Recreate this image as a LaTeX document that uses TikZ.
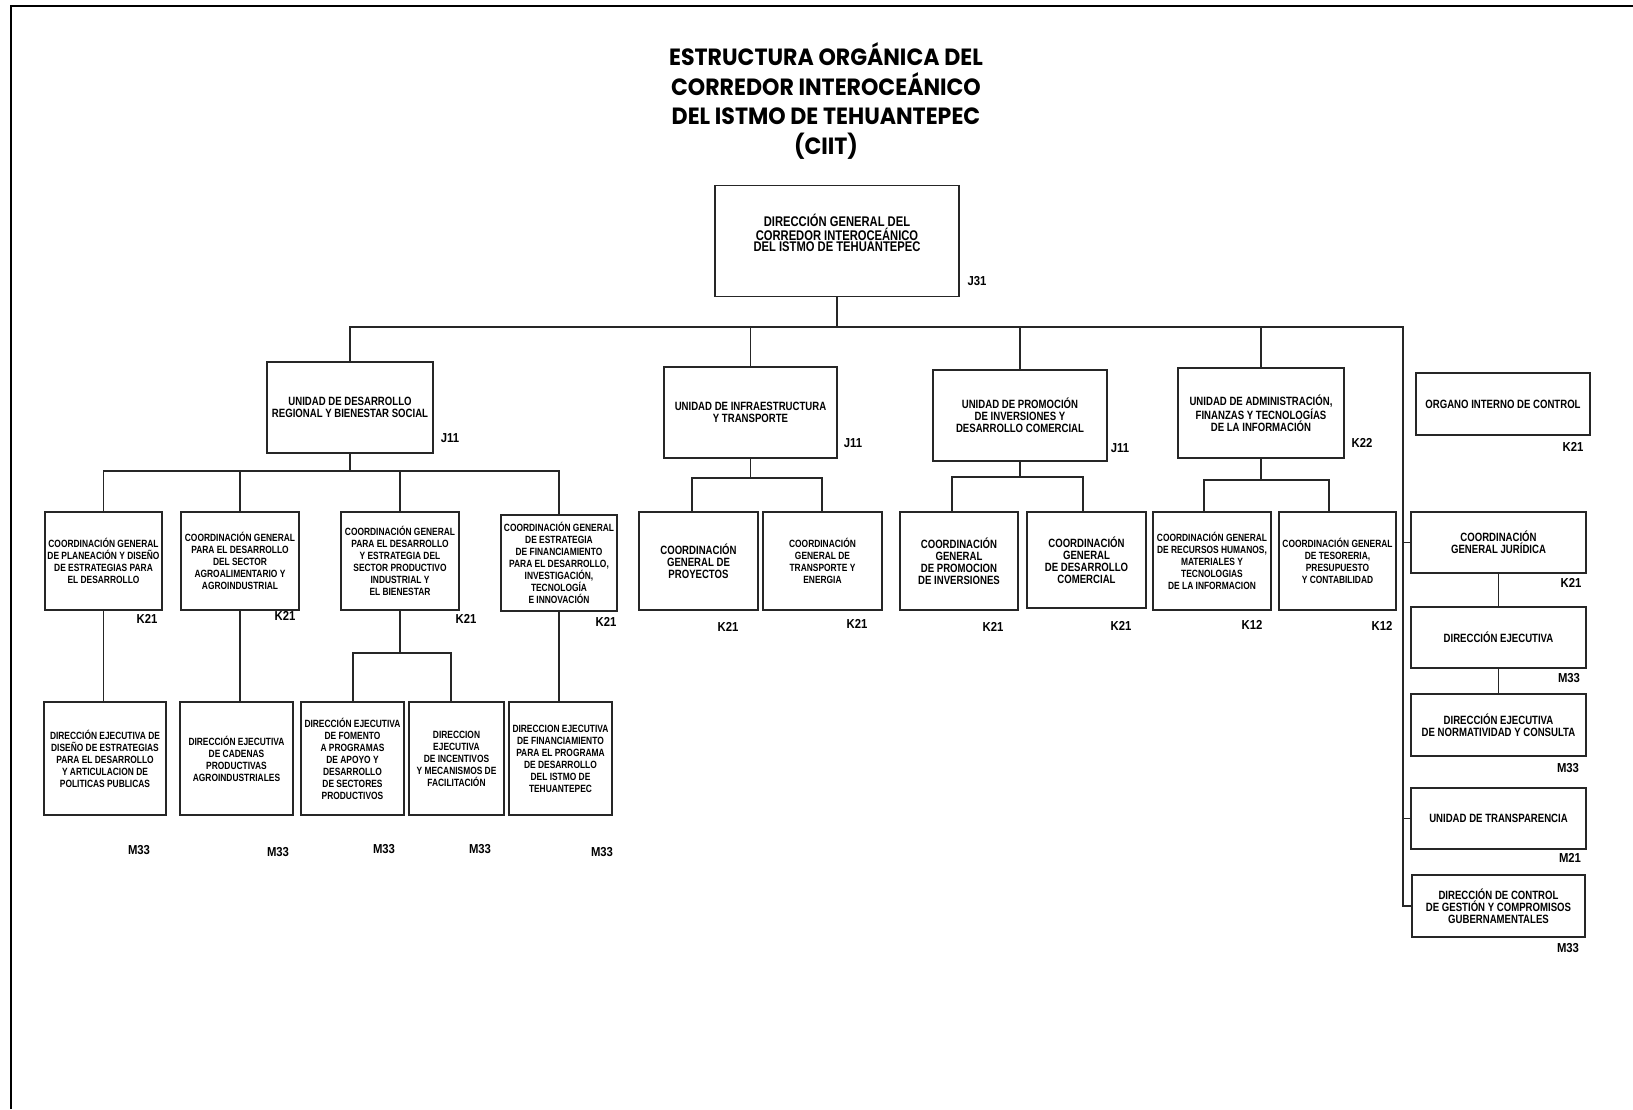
\documentclass[tikz,border=0pt]{standalone}
\usepackage{fontspec}
\setmainfont{Liberation Sans}
\newfontfamily\narrowfont{Liberation Sans}[FakeStretch=0.8]
\newfontfamily\codefont{Liberation Sans}[FakeStretch=0.87]
\newfontfamily\titlefont{Poppins}[FakeStretch=0.94]
\tikzset{
    box/.style={draw=black!85, line width=1.3pt, inner sep=1pt, align=center},
    conn/.style={draw=black!85, line width=1.1pt},
    txtbig/.style={font=\narrowfont\bfseries\fontsize{14}{11}\selectfont},
    txtmid/.style={font=\narrowfont\bfseries\fontsize{12}{12}\selectfont},
    txtsmall/.style={font=\narrowfont\bfseries\fontsize{10.5}{12}\selectfont},
    grade/.style={font=\codefont\bfseries\fontsize{13}{13}\selectfont, inner sep=0pt},
}

\begin{document}
\begin{tikzpicture}[x=1pt,y=-1pt]
        \useasboundingbox (0,0) rectangle (1633,1109);
        \draw[line width=2.4pt](11,1109)--(11,6)--(1633,6);
        \node[font=\titlefont\bfseries\fontsize{23.5}{29.5}\selectfont, align=center] (title) at (826,101) {ESTRUCTURA ORGÁNICA DEL\\CORREDOR INTEROCEÁNICO\\DEL ISTMO DE TEHUANTEPEC\\(CIIT)};
        % direccion general
        \node[box, minimum width=244, minimum height=111] (dg) at (837,241) {};
        \node[txtbig, align=center] (dgtext) at (837,233) {DIRECCIÓN GENERAL DEL\\CORREDOR INTEROCEÁNICO\\DEL ISTMO DE TEHUANTEPEC};
        \node[grade] (dgcode) at (977,281) {J31};
        % unidades
        \node[box, txtmid, minimum width=166, minimum height=91] (udr) at (350,407.5) {UNIDAD DE DESARROLLO\\REGIONAL Y BIENESTAR SOCIAL};
        \node[grade] (udrcode) at (450,438) {J11};
        \node[box, txtmid, minimum width=173, minimum height=91] (uit) at (750.5,412.5) {UNIDAD DE INFRAESTRUCTURA\\Y TRANSPORTE};
        \node[grade] (uitcode) at (853,443) {J11};
        \node[box, txtmid, minimum width=174, minimum height=91] (upi) at (1020,415.5) {UNIDAD DE PROMOCIÓN\\DE INVERSIONES Y\\DESARROLLO COMERCIAL};
        \node[grade] (upicode) at (1120,448) {J11};
        \node[box, txtmid, minimum width=166, minimum height=90] (uaf) at (1261,413) {UNIDAD DE ADMINISTRACIÓN,\\FINANZAS Y TECNOLOGÍAS\\DE LA INFORMACIÓN};
        \node[grade] (uafcode) at (1362,443) {K22};
        \node[box, txtmid, minimum width=174, minimum height=62] (oic) at (1503,404) {ORGANO INTERNO DE CONTROL};
        \node[grade] (oiccode) at (1573,447) {K21};
        % coordinaciones
        \node[box, txtsmall, minimum width=117, minimum height=98] (c1) at (103.5,561) {COORDINACIÓN GENERAL\\DE PLANEACIÓN Y DISEÑO\\DE ESTRATEGIAS PARA\\EL DESARROLLO};
        \node[grade] (c1code) at (147,619) {K21};
        \node[box, txtsmall, minimum width=118, minimum height=98] (c2) at (240,561) {COORDINACIÓN GENERAL\\PARA EL DESARROLLO\\DEL SECTOR\\AGROALIMENTARIO Y\\AGROINDUSTRIAL};
        \node[grade] (c2code) at (285,616) {K21};
        \node[box, txtsmall, minimum width=118, minimum height=98] (c3) at (400,561) {COORDINACIÓN GENERAL\\PARA EL DESARROLLO\\Y ESTRATEGIA DEL\\SECTOR PRODUCTIVO\\INDUSTRIAL Y\\EL BIENESTAR};
        \node[grade] (c3code) at (466,619) {K21};
        \node[box, txtsmall, minimum width=116, minimum height=96] (c4) at (559,563) {COORDINACIÓN GENERAL\\DE ESTRATEGIA\\DE FINANCIAMIENTO\\PARA EL DESARROLLO,\\INVESTIGACIÓN,\\TECNOLOGÍA\\E INNOVACIÓN};
        \node[grade] (c4code) at (606,622) {K21};
        \node[box, txtmid, minimum width=119, minimum height=98] (c5) at (698.5,561) {COORDINACIÓN\\GENERAL DE\\PROYECTOS};
        \node[grade] (c5code) at (728,627) {K21};
        \node[box, txtsmall, minimum width=119, minimum height=98] (c6) at (822.5,561) {COORDINACIÓN\\GENERAL DE\\TRANSPORTE Y\\ENERGIA};
        \node[grade] (c6code) at (857,624) {K21};
        \node[box, txtmid, minimum width=118, minimum height=98] (c7) at (959,561) {COORDINACIÓN\\GENERAL\\DE PROMOCION\\DE INVERSIONES};
        \node[grade] (c7code) at (993,627) {K21};
        \node[box, txtmid, minimum width=119, minimum height=96] (c8) at (1086.5,560) {COORDINACIÓN\\GENERAL\\DE DESARROLLO\\COMERCIAL};
        \node[grade] (c8code) at (1121,626) {K21};
        \node[box, txtsmall, minimum width=118, minimum height=98] (c9) at (1212,561) {COORDINACIÓN GENERAL\\DE RECURSOS HUMANOS,\\MATERIALES Y\\TECNOLOGIAS\\DE LA INFORMACION};
        \node[grade] (c9code) at (1252,625) {K12};
        \node[box, txtsmall, minimum width=117, minimum height=98] (c10) at (1337.5,561) {COORDINACIÓN GENERAL\\DE TESORERIA,\\PRESUPUESTO\\Y CONTABILIDAD};
        \node[grade] (c10code) at (1382,626) {K12};
        % direcciones ejecutivas
        \node[box, txtsmall, minimum width=122, minimum height=113] (d1) at (105,758.5) {DIRECCIÓN EJECUTIVA DE\\DISEÑO DE ESTRATEGIAS\\PARA EL DESARROLLO\\Y ARTICULACION DE\\POLITICAS PUBLICAS};
        \node[grade] (d1code) at (139,850) {M33};
        \node[box, txtsmall, minimum width=113, minimum height=113] (d2) at (236.5,758.5) {DIRECCIÓN EJECUTIVA\\DE CADENAS\\PRODUCTIVAS\\AGROINDUSTRIALES};
        \node[grade] (d2code) at (278,852) {M33};
        \node[box, txtsmall, minimum width=103, minimum height=113] (d3) at (352.5,758.5) {DIRECCIÓN EJECUTIVA\\DE FOMENTO\\A PROGRAMAS\\DE APOYO Y\\DESARROLLO\\DE SECTORES\\PRODUCTIVOS};
        \node[grade] (d3code) at (384,849) {M33};
        \node[box, txtsmall, minimum width=95, minimum height=113] (d4) at (456.5,758.5) {DIRECCION\\EJECUTIVA\\DE INCENTIVOS\\Y MECANISMOS DE\\FACILITACIÓN};
        \node[grade] (d4code) at (480,849) {M33};
        \node[box, txtsmall, minimum width=103, minimum height=113] (d5) at (560.5,758.5) {DIRECCION EJECUTIVA\\DE FINANCIAMIENTO\\PARA EL PROGRAMA\\DE DESARROLLO\\DEL ISTMO DE\\TEHUANTEPEC};
        \node[grade] (d5code) at (602,852) {M33};
        % columna derecha
        \node[box, txtmid, minimum width=175, minimum height=61] (cgj) at (1498.5,542.5) {COORDINACIÓN\\GENERAL JURÍDICA};
        \node[grade] (cgjcode) at (1571,583) {K21};
        \node[box, txtmid, minimum width=175, minimum height=61] (de) at (1498.5,637.5) {DIRECCIÓN EJECUTIVA};
        \node[grade] (decode) at (1569,678) {M33};
        \node[box, txtmid, minimum width=175, minimum height=62] (denc) at (1498.5,725) {DIRECCIÓN EJECUTIVA\\DE NORMATIVIDAD Y CONSULTA};
        \node[grade] (denccode) at (1568,768) {M33};
        \node[box, txtmid, minimum width=175, minimum height=61] (ut) at (1498.5,818.5) {UNIDAD DE TRANSPARENCIA};
        \node[grade] (utcode) at (1570,858) {M21};
        \node[box, txtmid, minimum width=173, minimum height=62] (dcg) at (1498.5,906) {DIRECCIÓN DE CONTROL\\DE GESTIÓN Y COMPROMISOS\\GUBERNAMENTALES};
        \node[grade] (dcgcode) at (1568,948) {M33};
        % lineas
        \coordinate (bus) at (835,327);
        \coordinate (rt) at (1403,327);
        \draw[conn](dg.south)--(dg.south|-bus);
        \draw[conn](udr.north)--(udr.north|-bus)--(rt)--(rt|-dcg.west)--(dcg.west);
        \draw[conn](uit.north|-bus)--(uit.north);
        \draw[conn](upi.north|-bus)--(upi.north);
        \draw[conn](uaf.north|-bus)--(uaf.north);
        \draw[conn](rt|-cgj.west)--(cgj.west);
        \draw[conn](rt|-ut.west)--(ut.west);
        \coordinate (b1) at (350,471);
        \draw[conn](udr.south)--(udr.south|-b1);
        \draw[conn](c1.north)--(c1.north|-b1)--(c4.north|-b1)--(c4.north);
        \draw[conn](c2.north|-b1)--(c2.north);
        \draw[conn](c3.north|-b1)--(c3.north);
        \coordinate (b2l) at (692,478);
        \coordinate (b2r) at (822,478);
        \draw[conn](uit.south)--(uit.south|-b2l);
        \draw[conn](c5.north-|b2l)--(b2l)--(b2r)--(c6.north-|b2r);
        \coordinate (b3l) at (952,477);
        \coordinate (b3r) at (1083,477);
        \draw[conn](upi.south)--(upi.south|-b3l);
        \draw[conn](c7.north-|b3l)--(b3l)--(b3r)--(c8.north-|b3r);
        \coordinate (b4l) at (1204,480);
        \coordinate (b4r) at (1329,480);
        \draw[conn](uaf.south)--(uaf.south|-b4l);
        \draw[conn](c9.north-|b4l)--(b4l)--(b4r)--(c10.north-|b4r);
        \coordinate (b5l) at (353,653);
        \coordinate (b5r) at (451,653);
        \draw[conn](c3.south)--(c3.south|-b5l);
        \draw[conn](d3.north-|b5l)--(b5l)--(b5r)--(d4.north-|b5r);
        \draw[conn](c1.south)--(c1.south|-d1.north);
        \draw[conn](c2.south)--(c2.south|-d2.north);
        \draw[conn](c4.south)--(c4.south|-d5.north);
        \draw[conn](cgj.south)--(de.north);
        \draw[conn](de.south)--(denc.north);
\end{tikzpicture}
\end{document}
